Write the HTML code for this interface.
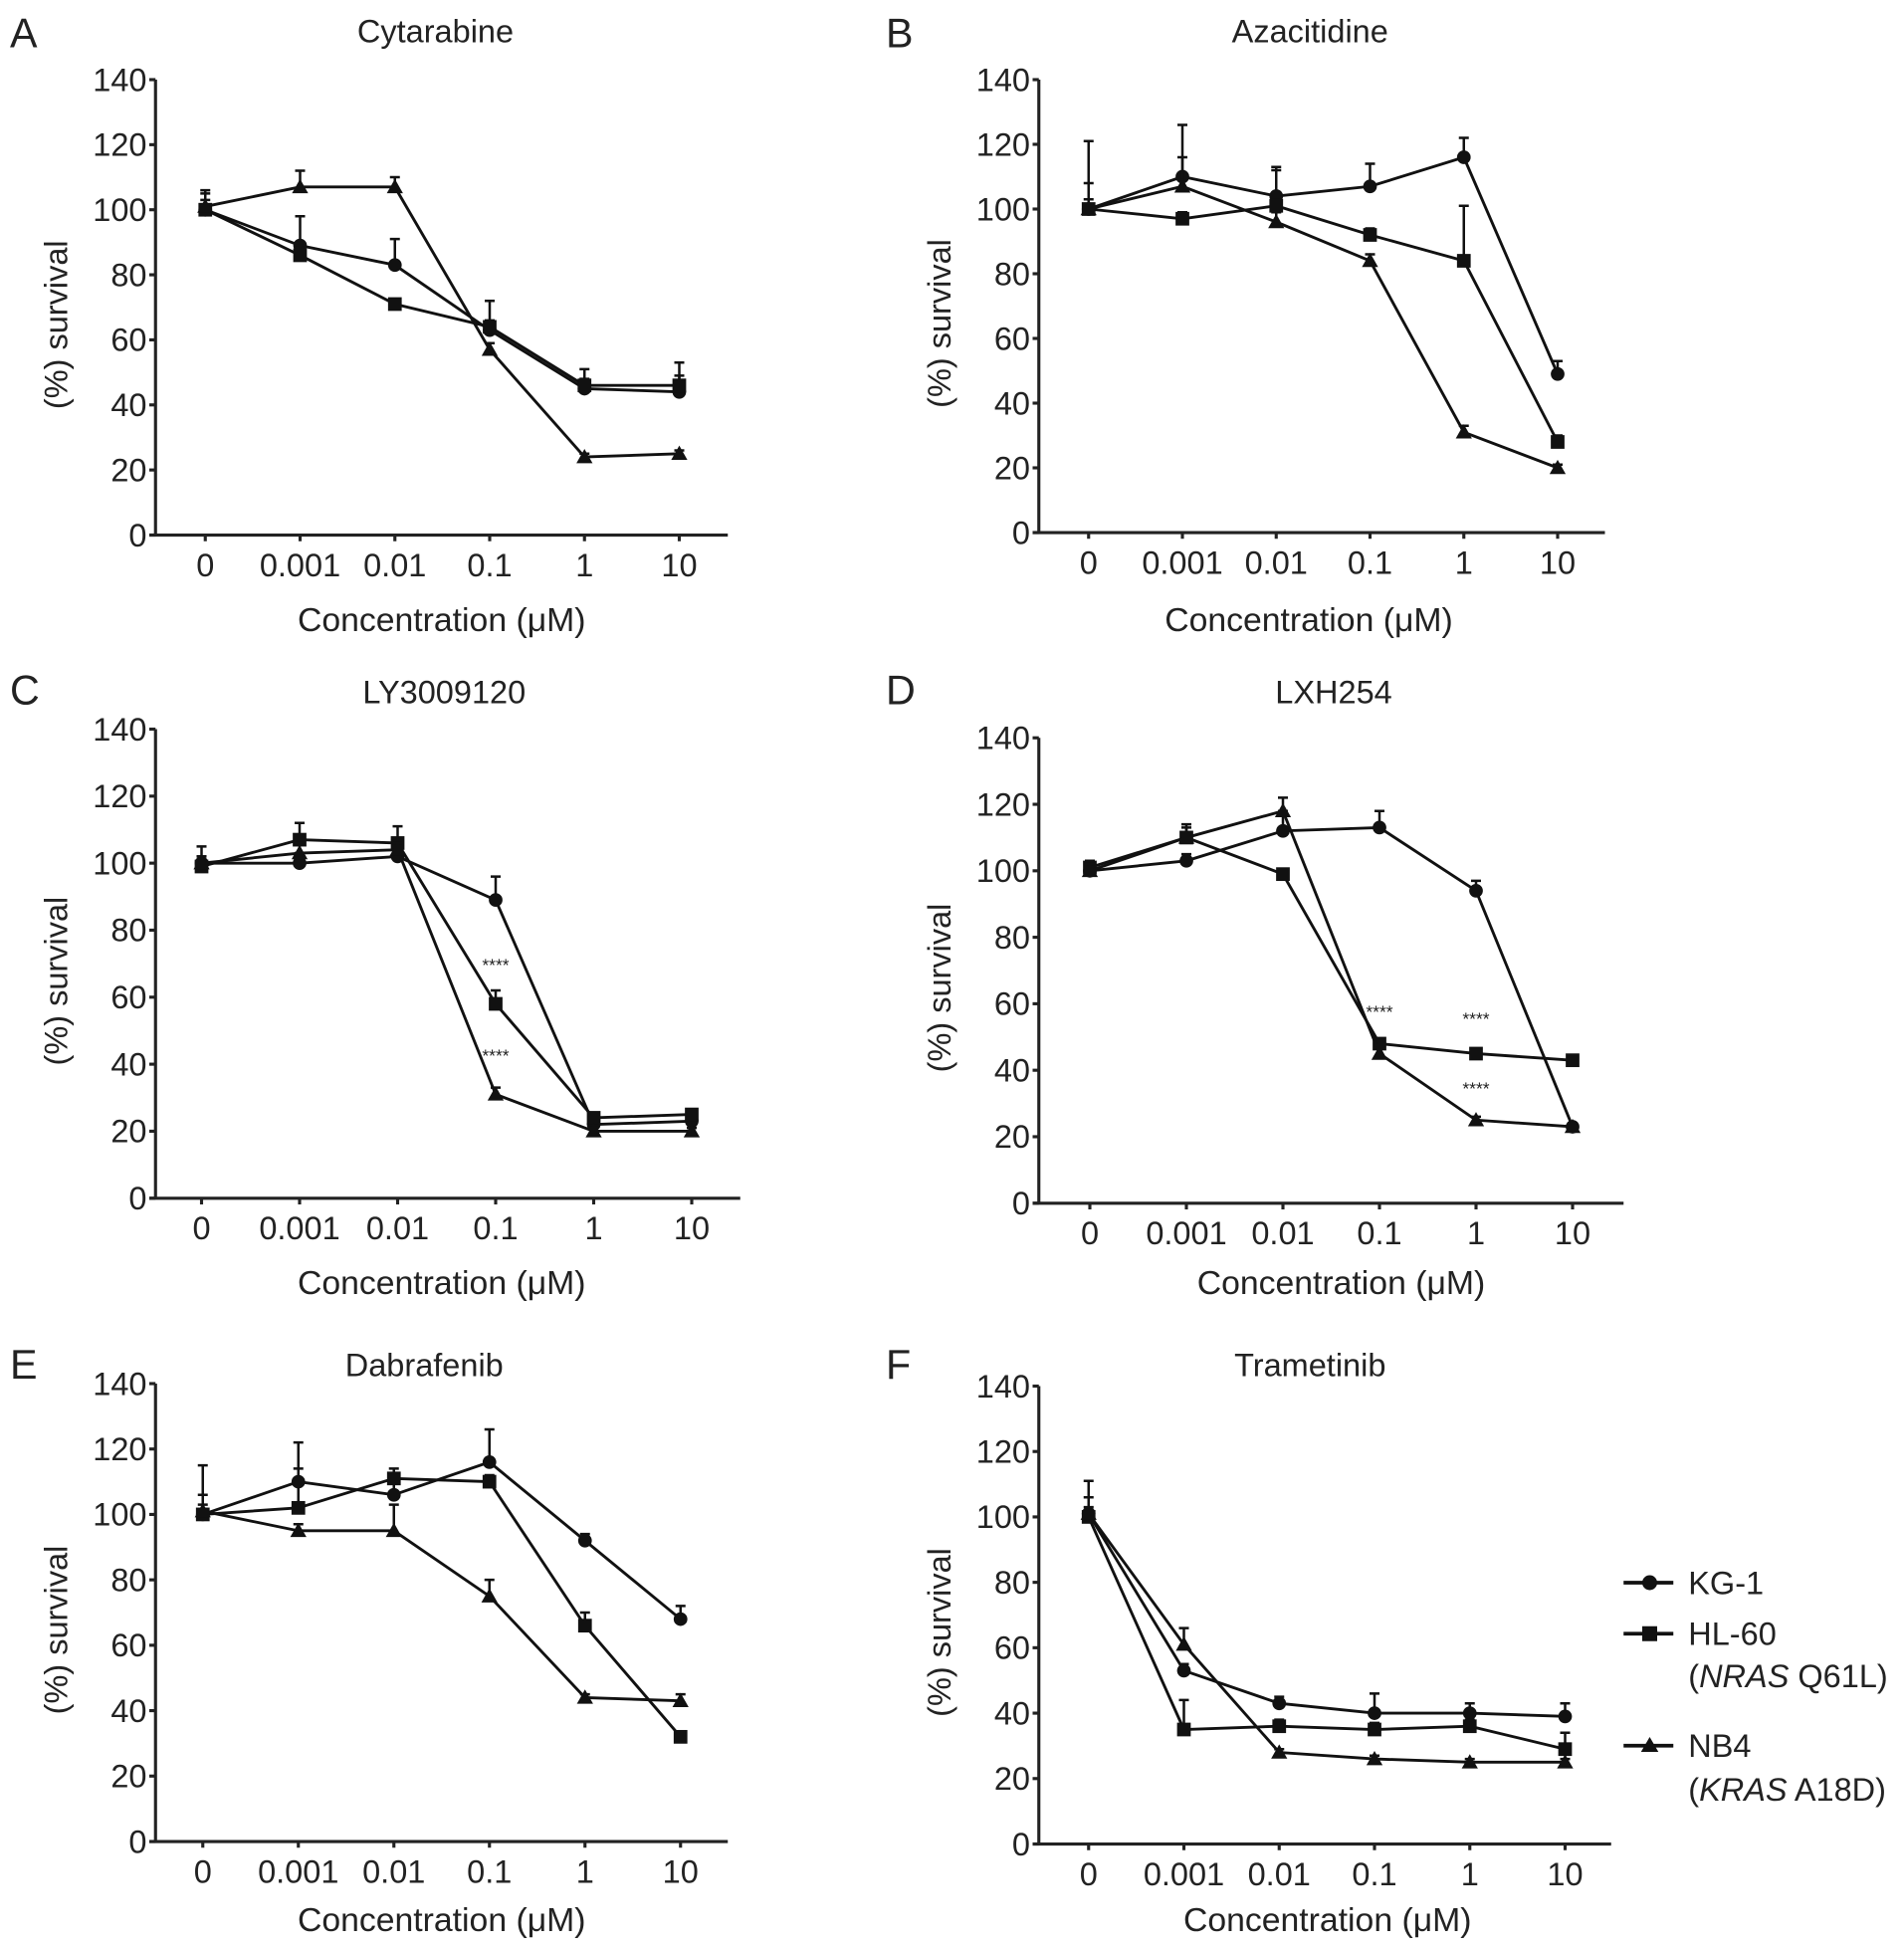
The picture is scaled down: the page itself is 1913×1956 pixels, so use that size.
<!DOCTYPE html>
<html><head><meta charset="utf-8"><style>
html,body{margin:0;padding:0;background:#fff}
svg{display:block}
text{font-family:"Liberation Sans",Arial,sans-serif;fill:#222}
</style></head><body>
<svg id="fig" width="1913" height="1956" viewBox="0 0 1530.4 1564.8" xmlns="http://www.w3.org/2000/svg">
<g id="legend">
  <g>
    <line x1="1305" y1="1272" x2="1345" y2="1272" stroke="#111" stroke-width="3"/>
    <circle cx="1326" cy="1272" r="6" fill="#111"/>
    <text x="1357" y="1281" font-size="26">KG-1</text>
  </g>
  <g>
    <line x1="1305" y1="1313" x2="1345" y2="1313" stroke="#111" stroke-width="3"/>
    <rect x="1320" y="1307" width="12" height="12" fill="#111"/>
    <text x="1357" y="1322" font-size="26">HL-60</text>
    <text x="1357" y="1356" font-size="26">(<tspan font-style="italic">NRAS</tspan> Q61L)</text>
  </g>
  <g>
    <line x1="1305" y1="1403" x2="1345" y2="1403" stroke="#111" stroke-width="3"/>
    <polygon points="1326,1396 1333,1408 1319,1408" fill="#111"/>
    <text x="1357" y="1412" font-size="26">NB4</text>
    <text x="1357" y="1447" font-size="26">(<tspan font-style="italic">KRAS</tspan> A18D)</text>
  </g>
</g>
</svg>
<script>
const concLabels = ["0","0.001","0.01","0.1","1","10"];
const yTicks = [0,20,40,60,80,100,120,140];
const panelTitles = ["Cytarabine","Azacitidine","LY3009120","LXH254","Dabrafenib","Trametinib"];
const panelLetters = ["A","B","C","D","E","F"];

const kg1A = [100,89,83,63,45,44];
const hl60A = [100,86,71,64,46,46];
const nb4A = [101,107,107,57,24,25];
const kg1ErrA = [5,9,8,9,6,9];
const hl60ErrA = [3,3,1,2,2,3];
const nb4ErrA = [5,5,3,2,1,1];

const kg1B = [100,110,104,107,116,49];
const hl60B = [100,97,101,92,84,28];
const nb4B = [100,107,96,84,31,20];
const kg1ErrB = [21,16,9,7,6,4];
const hl60ErrB = [8,2,11,2,17,2];
const nb4ErrB = [3,9,3,2,2,1];

const kg1C = [100,100,102,89,22,23];
const hl60C = [99,107,106,58,24,25];
const nb4C = [100,103,104,31,20,20];
const kg1ErrC = [5,3,2,7,1,1];
const hl60ErrC = [3,5,5,4,1,1];
const nb4ErrC = [2,3,2,2,1,1];

const kg1D = [100,103,112,113,94,23];
const hl60D = [101,110,99,48,45,43];
const nb4D = [100,110,118,45,25,23];
const kg1ErrD = [2,2,6,5,3,1];
const hl60ErrD = [2,4,1,1,1,1];
const nb4ErrD = [2,3,4,2,1,1];

const kg1E = [100,110,106,116,92,68];
const hl60E = [100,102,111,110,66,32];
const nb4E = [101,95,95,75,44,43];
const kg1ErrE = [15,12,4,10,2,4];
const hl60ErrE = [6,12,3,2,4,1];
const nb4ErrE = [2,2,8,5,1,2];

const kg1F = [101,53,43,40,40,39];
const hl60F = [100,35,36,35,36,29];
const nb4F = [101,61,28,26,25,25];
const kg1ErrF = [10,2,2,6,3,4];
const hl60ErrF = [3,9,2,2,2,5];
const nb4ErrF = [5,5,1,1,1,1];

const starLabels = [[],[],[[3,70],[3,43]],[[3,58],[4,56],[4,35]],[],[]];

const seriesByPanel = [
 [kg1A,hl60A,nb4A,kg1ErrA,hl60ErrA,nb4ErrA],
 [kg1B,hl60B,nb4B,kg1ErrB,hl60ErrB,nb4ErrB],
 [kg1C,hl60C,nb4C,kg1ErrC,hl60ErrC,nb4ErrC],
 [kg1D,hl60D,nb4D,kg1ErrD,hl60ErrD,nb4ErrD],
 [kg1E,hl60E,nb4E,kg1ErrE,hl60ErrE,nb4ErrE],
 [kg1F,hl60F,nb4F,kg1ErrF,hl60ErrF,nb4ErrF]
];

const layout = [
 {ax:125,y0:430,y140:64,x0:165,x10:546,xEnd:585,tx:350,ty:25,lx:8,ly:38,xl:355,xly:505},
 {ax:835,y0:428,y140:64,x0:875,x10:1252,xEnd:1290,tx:1053,ty:25,lx:712,ly:38,xl:1052,xly:505},
 {ax:125,y0:963,y140:586,x0:162,x10:556,xEnd:595,tx:357,ty:556,lx:8,ly:566,xl:355,xly:1038},
 {ax:835,y0:967,y140:593,x0:876,x10:1264,xEnd:1305,tx:1072,ty:556,lx:712,ly:566,xl:1078,xly:1038},
 {ax:125,y0:1480,y140:1112,x0:163,x10:547,xEnd:585,tx:341,ty:1097,lx:8,ly:1108,xl:355,xly:1550},
 {ax:835,y0:1482,y140:1114,x0:875,x10:1258,xEnd:1295,tx:1053,ty:1097,lx:712,ly:1108,xl:1067,xly:1550}
];

const NS = "http://www.w3.org/2000/svg";
const svg = document.getElementById("fig");
function mk(tag, attrs, parent){
  const e = document.createElementNS(NS, tag);
  for (const k in attrs) e.setAttribute(k, attrs[k]);
  parent.appendChild(e);
  return e;
}
const seriesNames = ["kg1","hl60","nb4"];

layout.forEach((L, p) => {
  const g = mk("g", {}, svg);
  
  
  const xS = i => L.x0 + (L.x10 - L.x0) * i / (concLabels.length - 1);
  const yS = v => L.y0 - (L.y0 - L.y140) * v / 140;

  const letter = mk("text", {x:L.lx, y:L.ly, "font-size":33}, g);
  letter.textContent = panelLetters[p];
  
  
  const title = mk("text", {x:L.tx, y:L.ty+9, "font-size":26, "text-anchor":"middle"}, g);
  title.textContent = panelTitles[p];
  
  

  const yAx = mk("line", {x1:L.ax, y1:L.y140, x2:L.ax, y2:L.y0, stroke:"#222", "stroke-width":2.5}, g);
  
  
  const xAx = mk("line", {x1:L.ax-5, y1:L.y0, x2:L.xEnd, y2:L.y0, stroke:"#222", "stroke-width":2.5}, g);
  
  
  yTicks.forEach(t => {
    mk("line", {x1:L.ax-5, y1:yS(t), x2:L.ax, y2:yS(t), stroke:"#222", "stroke-width":2.5}, g);
    const tl = mk("text", {x:L.ax-7, y:yS(t)+9, "font-size":26, "text-anchor":"end"}, g);
    tl.textContent = t;
    
    
  });
  concLabels.forEach((c, i) => {
    mk("line", {x1:xS(i), y1:L.y0, x2:xS(i), y2:L.y0+5, stroke:"#222", "stroke-width":2.5}, g);
    const tl = mk("text", {x:xS(i), y:L.y0+33, "font-size":26, "text-anchor":"middle"}, g);
    tl.textContent = c;
    
    
  });
  const xl = mk("text", {x:L.xl, y:L.xly+2, "font-size":27, "text-anchor":"middle"}, g);
  xl.textContent = "Concentration (\u03BCM)";
  
  
  const ymid = (L.y0 + L.y140) / 2 + 14;
  const yl = mk("text", {x:0, y:0, "font-size":26, "text-anchor":"middle", transform:`translate(${L.ax-71},${ymid}) rotate(-90)`}, g);
  yl.textContent = "(%) survival";
  
  

  const S = seriesByPanel[p];
  for (let s = 0; s < 3; s++) {
    const vals = S[s], errs = S[s+3];
    const sg = mk("g", {}, g);
    
    
    const pts = vals.map((v, i) => xS(i) + "," + yS(v)).join(" ");
    const pl = mk("polyline", {points:pts, fill:"none", stroke:"#111", "stroke-width":2.3}, sg);
    
    
    vals.forEach((v, i) => {
      const x = xS(i), y = yS(v), yt = yS(v + errs[i]);
      const eb = mk("path", {d:`M${x},${y} V${yt} M${x-4},${yt} H${x+4}`, stroke:"#111", "stroke-width":2, fill:"none"}, sg);
      
      
      let m;
      if (s === 0) m = mk("circle", {cx:x, cy:y, r:5.5, fill:"#111"}, sg);
      else if (s === 1) m = mk("rect", {x:x-5.5, y:y-5.5, width:11, height:11, fill:"#111"}, sg);
      else m = mk("polygon", {points:`${x},${y-6.5} ${x+6.5},${y+5} ${x-6.5},${y+5}`, fill:"#111"}, sg);
      
      
    });
  }
  starLabels[p].forEach(([i, v]) => {
    const st = mk("text", {x:xS(i), y:yS(v)+6, "font-size":14, "text-anchor":"middle", fill:"#555"}, g);
    st.textContent = "****";
    
    
  });
});
</script>
</body></html>
